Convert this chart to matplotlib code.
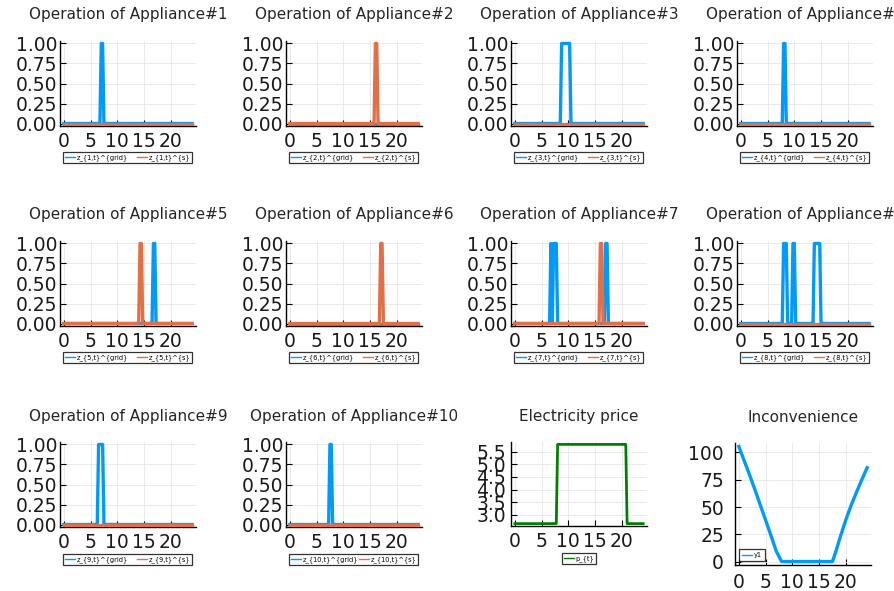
import numpy as np
import matplotlib
matplotlib.use("Agg")
import matplotlib.pyplot as plt

# ---------------------------------------------------------------- data
# time axis: one day in 15-minute slots
t = np.arange(0, 24.25, 0.25)

# on-periods (hours, inclusive slot starts) for each appliance, by power source
grid_on = [
    [(7.0, 7.25)],                                   # appliance 1
    [],                                              # appliance 2
    [(8.75, 10.25)],                                 # appliance 3
    [(8.0, 8.25)],                                   # appliance 4
    [(16.75, 17.0)],                                 # appliance 5
    [],                                              # appliance 6
    [(6.75, 6.75), (7.25, 7.75), (17.0, 17.25)],     # appliance 7
    [(8.0, 8.5), (9.75, 10.0), (13.75, 14.75)],      # appliance 8
    [(6.5, 7.25)],                                   # appliance 9
    [(7.5, 7.75)],                                   # appliance 10
]
solar_on = [
    [], [(16.0, 16.25)], [], [], [(14.25, 14.5)],
    [(17.0, 17.25)], [(16.0, 16.25)], [], [], [],
]

# electricity price: off-peak / peak levels and the peak window
price_offpeak = 2.64
price_peak = 5.80
peak_window = (8.0, 20.75)

# inconvenience cost over the day
inconv_t = [0, 1, 2, 3, 4, 5, 6, 7, 8, 9, 10, 11, 12, 13, 14, 15, 16, 17,
            17.5, 18, 19, 20, 21, 22, 23, 24]
inconv_val = [105.5, 92.5, 79.5, 66, 52, 38, 24, 9.5, 0, 0, 0, 0, 0, 0, 0, 0,
              0, 0, 0, 7, 23, 38, 51.5, 63.5, 75, 86]

x_ticks = [0, 5, 10, 15, 20]
op_ticks = [0.0, 0.25, 0.5, 0.75, 1.0]
price_ticks = [3.0, 3.5, 4.0, 4.5, 5.0, 5.5]
inconv_ticks = [0, 25, 50, 75, 100]

BLUE = "#009AFA"
ORANGE = "#E36F47"
GREEN = "#008000"


def schedule(periods):
    s = np.zeros_like(t)
    for a, b in periods:
        s[(t >= a - 1e-9) & (t <= b + 1e-9)] = 1.0
    return s


# ---------------------------------------------------------------- layout
W, H = 894, 591
fig = plt.figure(figsize=(W / 100, H / 100), dpi=100)
fig.patch.set_facecolor("white")

col_left = [60, 286, 511, 737]
row_top = [41, 241, 442]
AX_W, AX_H = 136, 85
title_y = [14.5, 215, 416]
TICK_FS = 13.5
LEG_FS = 4.8


def make_axes(left, top, width, height):
    return fig.add_axes([left / W, 1 - (top + height) / H, width / W, height / H])


def style(ax, ypad=2.0, xpad=4.5):
    for s in ("top", "right"):
        ax.spines[s].set_visible(False)
    for s in ("left", "bottom"):
        ax.spines[s].set_color("black")
        ax.spines[s].set_linewidth(1.0)
    ax.grid(True, color="#e6e6e6", linewidth=0.6)
    ax.set_axisbelow(True)
    ax.tick_params(direction="in", length=4, width=0.8, colors="black",
                   labelsize=TICK_FS, labelcolor="#1a1a1a")
    ax.tick_params(axis="x", pad=xpad)
    ax.tick_params(axis="y", pad=ypad)
    ax.set_xticks(x_ticks)
    pad = 0.03 * (t[-1] - t[0])
    ax.set_xlim(t[0] - pad, t[-1] + pad)


def title(ax, text, yc):
    bb = ax.get_position()
    fig.text((bb.x0 + bb.x1) / 2, 1 - yc / H, text, ha="center", va="center",
             fontsize=11, color="#262626")


def frame_legend(leg):
    leg.get_frame().set_edgecolor("black")
    leg.get_frame().set_linewidth(0.9)
    for ln in leg.get_lines():
        ln.set_linewidth(1.0)


# appliance panels
for i in range(10):
    r, c = divmod(i, 4)
    ax = make_axes(col_left[c], row_top[r], AX_W, AX_H)
    style(ax)
    k = i + 1
    ax.plot(t, schedule(grid_on[i]), color=BLUE, lw=2.4,
            label=f"z_{{{k},t}}^{{grid}}", zorder=3)
    ax.plot(t, schedule(solar_on[i]), color=ORANGE, lw=2.4,
            label=f"z_{{{k},t}}^{{s}}", zorder=4)
    ax.set_ylim(-0.031, 1.031)
    ax.set_yticks(op_ticks)
    ax.set_yticklabels([f"{v:.2f}" for v in op_ticks])
    title(ax, f"Operation of Appliance#{k}", title_y[r])
    ytop = -0.305 if r < 2 else -0.318
    leg = ax.legend(loc="upper left", bbox_to_anchor=(0.022, ytop, 0.95, 0),
                    mode="expand", ncol=2, fontsize=LEG_FS, frameon=True,
                    fancybox=False, borderaxespad=0, borderpad=0.3,
                    handlelength=1.5, handletextpad=0.2, columnspacing=0.3)
    frame_legend(leg)

# electricity price
ax = make_axes(col_left[2], row_top[2], AX_W, 84)
style(ax, ypad=3.5)
price = np.where((t >= peak_window[0]) & (t <= peak_window[1]),
                 price_peak, price_offpeak)
ax.plot(t, price, color=GREEN, lw=2.0, label="p_{t}")
span = price_peak - price_offpeak
ax.set_ylim(price_offpeak - 0.03 * span, price_peak + 0.03 * span)
ax.set_yticks(price_ticks)
ax.set_yticklabels([f"{v:.1f}" for v in price_ticks])
title(ax, "Electricity price", 416)
leg = ax.legend(loc="upper center", bbox_to_anchor=(0.5, -0.32), fontsize=LEG_FS,
                frameon=True, fancybox=False, borderaxespad=0, borderpad=0.3,
                handlelength=1.5, handletextpad=0.2)
frame_legend(leg)

# inconvenience
ax = make_axes(col_left[3] - 2, row_top[2] + 1, AX_W, 122)
style(ax, ypad=8.0, xpad=6.0)
ax.plot(inconv_t, inconv_val, color=BLUE, lw=2.4, label="y1")
vmax = max(inconv_val)
ax.set_ylim(-0.03 * vmax, vmax * 1.03)
ax.set_yticks(inconv_ticks)
title(ax, "Inconvenience", 417)
leg = ax.legend(loc="lower left", bbox_to_anchor=(0.03, 0.03), fontsize=LEG_FS,
                frameon=True, fancybox=False, borderaxespad=0, borderpad=0.5,
                handlelength=1.5, handletextpad=0.2)
frame_legend(leg)

fig.savefig("out.png", dpi=100, facecolor="white")
